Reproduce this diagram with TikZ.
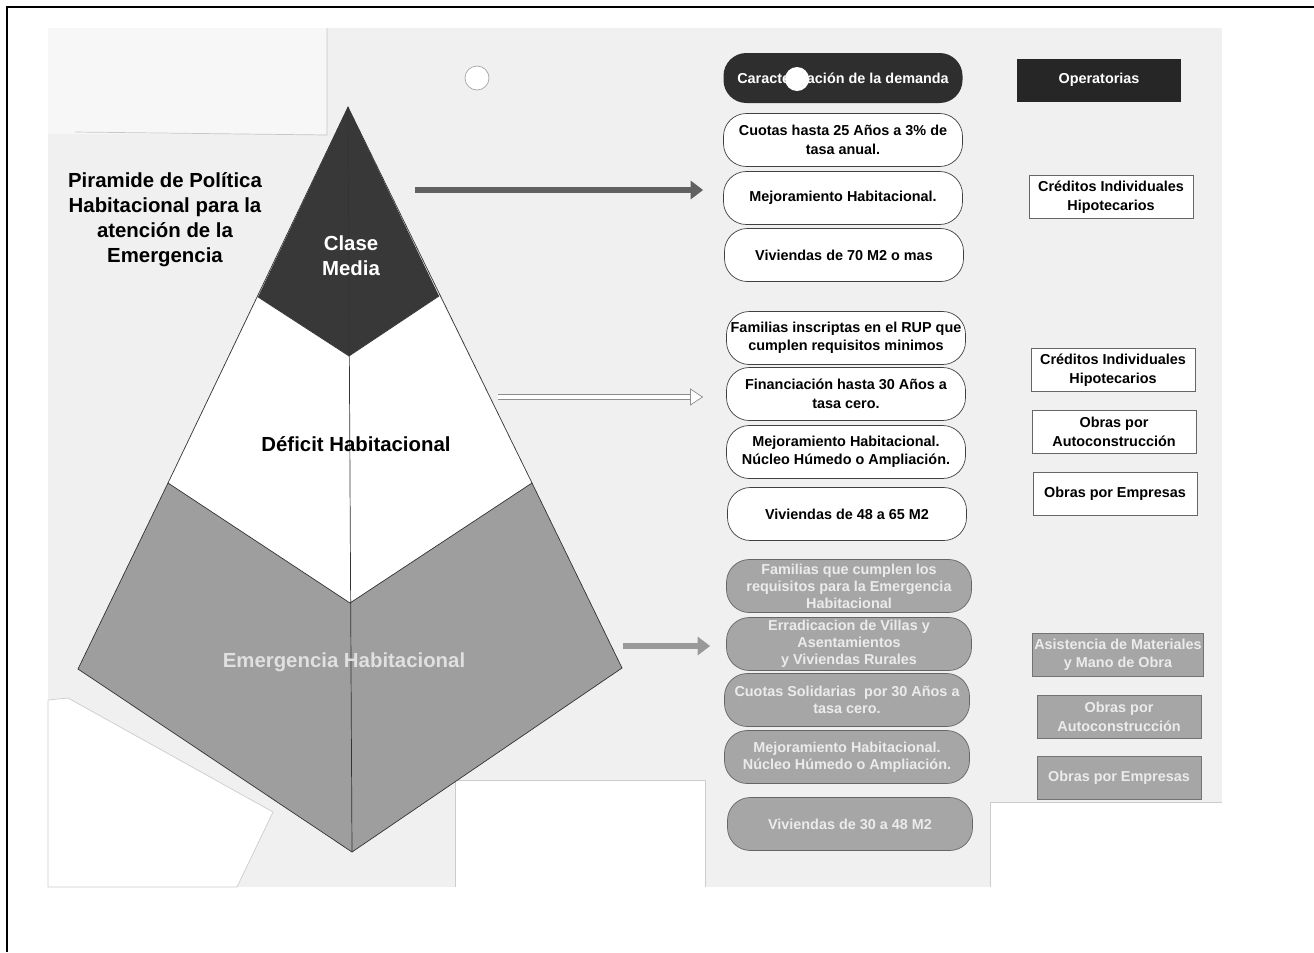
\documentclass[tikz,border=0pt]{standalone}
\usepackage{fontspec}
\setmainfont{Liberation Sans}
\usetikzlibrary{arrows.meta,positioning}

\begin{document}
\begin{tikzpicture}[x=0.2mm,y=-0.2mm]
        \tikzstyle{demanda}=[rounded corners=13pt,draw=black!75,fill=white,minimum width=4.78cm,minimum height=1.06cm,align=center,inner sep=1pt,font=\fontsize{8.2}{10.5}\selectfont\bfseries]
        \tikzstyle{emerg}=[demanda,draw=black!60,fill=black!35,text=black!8,minimum width=4.9cm,font=\fontsize{8.2}{9.6}\selectfont\bfseries]
        \tikzstyle{cabecera}=[demanda,draw=none,fill=black!82,text=white,minimum height=1cm]
        \tikzstyle{operbox}=[rectangle,draw=black!60,fill=white,minimum width=3.28cm,minimum height=0.86cm,align=center,inner sep=1pt,font=\fontsize{8.2}{10.5}\selectfont\bfseries]
        \tikzstyle{opercab}=[operbox,draw=none,fill=black!85,text=white]
        \tikzstyle{emergop}=[operbox,draw=black!55,fill=black!35,text=black!8]
        \tikzstyle{titulo}=[align=center,font=\fontsize{11.6}{14.2}\selectfont\bfseries]
        \tikzstyle{hoja}=[fill=white,draw=black!20,thin]
        \tikzstyle{flecha}=[line width=0.12cm,-{Triangle[width=0.36cm,length=0.25cm]}]
        \useasboundingbox (0,0) rectangle (1314,952);
        % marco y papel escaneado
        \draw[line width=1.6pt] (7,952) -- (7,7) -- (1314,7);
        \fill[black!6] (48,28) rectangle (1222,887);
        \fill[black!3] (48,28) rectangle (327,134);
        \draw[black!22] (75,132) -- (327,135) -- (327,28);
        \filldraw[hoja] (48,700) -- (68,698) -- (273,812) -- (237,887) -- (48,887) -- cycle;
        \fill[white] (455,780) rectangle (705,887);
        \draw[black!20] (455,887) -- (455,780) -- (705,780) -- (705,887);
        \fill[white] (990,802) rectangle (1222,887);
        \draw[black!20] (990,887) -- (990,802) -- (1222,802);
        \filldraw[fill=white,draw=black!35] (477,78) circle (12);
       \begin{scope}
         % piramide
         \coordinate (apex) at (348,107);
         \coordinate (cl) at (258,297);
         \coordinate (cr) at (439,296);
         \coordinate (cb) at (349,356);
         \coordinate (dl) at (168,483);
         \coordinate (dr) at (532,483);
         \coordinate (db) at (350,603);
         \coordinate (el) at (78,669);
         \coordinate (er) at (622,668);
         \coordinate (eb) at (352,852);
         \fill[black!78] (apex) -- (cr) -- (cb) -- (cl) -- cycle;
         \fill[white] (cl) -- (cb) -- (cr) -- (dr) -- (db) -- (dl) -- cycle;
         \fill[black!38] (dl) -- (db) -- (dr) -- (er) -- (eb) -- (el) -- cycle;
         \draw[black!80] (apex) -- (dl) -- (el) -- (eb) -- (er) -- (dr) -- cycle;
         \draw[black!80] (cl) -- (cb) -- (cr) (dl) -- (db) -- (dr) (apex) -- (eb);
         \node[titulo] (piramide) at (165,220) {Piramide de Política\\Habitacional para la\\atención de la\\Emergencia};
         \node[titulo,text=white] (media) at (351,256) {Clase\\Media};
         \node[titulo] (deficit) at (356,444) {Déficit Habitacional};
         \node[titulo,text=black!12] (emergencia) at (344,662) {Emergencia Habitacional};
        \end{scope}
       \begin{scope}
         % caracterizacion de la demanda
         \node[cabecera] (carac) at (843,78) {Caracterización de la demanda};
         \node[opercab] (oper) at (1099,80) {Operatorias};
         \fill[white] (797,79) circle (12);
         \node[demanda] (cuotas) at (843,140) {Cuotas hasta 25 Años a 3\% de\\tasa anual.};
         \node[demanda] (mejora) at (843,198) {Mejoramiento Habitacional.};
         \node[demanda] (viv70) at (844,255) {Viviendas de 70 M2 o mas};
         \node[operbox] (cred1) at (1111,197) {Créditos Individuales\\Hipotecarios};
         \node[demanda] (rup) at (846,338) {Familias inscriptas en el RUP que\\cumplen requisitos minimos};
         \node[demanda] (financ) at (846,394) {Financiación hasta 30 Años a\\tasa cero.};
         \node[demanda] (nucleo) at (846,452) {Mejoramiento Habitacional.\\Núcleo Húmedo o Ampliación.};
         \node[demanda] (viv48) at (847,514) {Viviendas de 48 a 65 M2};
         \node[operbox] (cred2) at (1113,370) {Créditos Individuales\\Hipotecarios};
         \node[operbox] (auto1) at (1114,432) {Obras por\\Autoconstrucción};
         \node[operbox] (empr1) at (1115,494) {Obras por Empresas};
         \node[emerg] (famem) at (849,586) {Familias que cumplen los\\requisitos para la Emergencia\\Habitacional};
         \node[emerg] (erradic) at (849,644) {Erradicacion de Villas y\\Asentamientos\\y Viviendas Rurales};
         \node[emerg] (solid) at (847,700) {Cuotas Solidarias\ \ por 30 Años a\\tasa cero.};
         \node[emerg] (nucleo2) at (847,757) {Mejoramiento Habitacional.\\Núcleo Húmedo o Ampliación.};
         \node[emerg] (viv30) at (850,824) {Viviendas de 30 a 48 M2};
         \node[emergop] (asist) at (1118,655) {Asistencia de Materiales\\y Mano de Obra};
         \node[emergop] (auto2) at (1119,717) {Obras por\\Autoconstrucción};
         \node[emergop] (empr2) at (1119,778) {Obras por Empresas};
        \end{scope}
        % flechas
        \coordinate (a1) at (415,190);
        \coordinate (a2) at (498,397);
        \coordinate (a3) at (623,646);
        \path[flecha,draw=black!62,shorten >=0.4cm] (a1) -- (a1 -| mejora.west);
        \path[draw=black!45,double=white,double distance=0.09cm,line width=0.4pt,shorten >=0.46cm,-{Triangle[open,fill=white,width=0.34cm,length=0.26cm]}] (a2) -- (a2 -| financ.west);
        \path[flecha,draw=black!40,shorten >=0.32cm] (a3) -- (a3 -| erradic.west);
      \end{tikzpicture}
\end{document}
